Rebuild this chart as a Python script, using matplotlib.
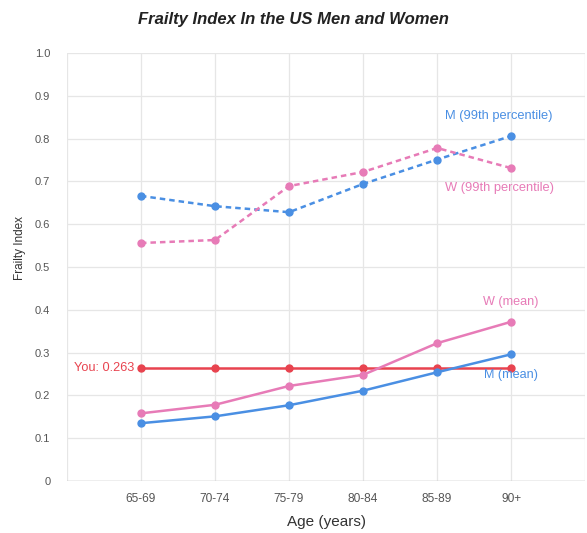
import matplotlib
matplotlib.use("Agg")
import matplotlib.pyplot as plt

plt.rcParams['font.family'] = ['Liberation Sans', 'DejaVu Sans']

categories = ["65-69", "70-74", "75-79", "80-84", "85-89", "90+"]
m_99 = [0.666, 0.642, 0.628, 0.694, 0.751, 0.806]
w_99 = [0.556, 0.563, 0.689, 0.722, 0.778, 0.731]
w_mean = [0.158, 0.178, 0.222, 0.248, 0.322, 0.372]
m_mean = [0.135, 0.151, 0.177, 0.211, 0.254, 0.296]
you_value = 0.263
y_ticks = [0, 0.1, 0.2, 0.3, 0.4, 0.5, 0.6, 0.7, 0.8, 0.9, 1.0]
y_tick_labels = ["0", "0.1", "0.2", "0.3", "0.4", "0.5", "0.6", "0.7", "0.8", "0.9", "1.0"]

BLUE = "#4a8fe3"
PINK = "#e77bb7"
RED = "#e8434f"

fig = plt.figure(figsize=(5.87, 5.33), dpi=100)
ax = fig.add_axes([0.114, 0.0976, 0.883, 0.803])

x = list(range(1, len(categories) + 1))

ax.plot(x, m_99, color=BLUE, lw=1.8, ls=(0, (2.2, 1.6)), marker='o', ms=5, zorder=3)
ax.plot(x, w_99, color=PINK, lw=1.8, ls=(0, (2.2, 1.6)), marker='o', ms=5, zorder=3)
ax.plot(x, [you_value] * len(x), color=RED, lw=1.8, marker='o', ms=5, zorder=2)
ax.plot(x, w_mean, color=PINK, lw=1.8, marker='o', ms=5, zorder=3)
ax.plot(x, m_mean, color=BLUE, lw=1.8, marker='o', ms=5, zorder=4)

ax.set_xlim(0, len(categories) + 1)
ax.set_ylim(0, 1.0)
ax.set_xticks(x)
ax.set_xticklabels(categories)
ax.set_yticks(y_ticks)
ax.set_yticklabels(y_tick_labels)
ax.set_xticks([0, len(categories) + 1], minor=True)

for s in ax.spines.values():
    s.set_visible(False)
ax.axhline(0, color="#bbbbbb", lw=1.0, zorder=1)
ax.grid(True, which='major', color="#e6e6e6", lw=0.9)
ax.grid(True, which='minor', axis='x', color="#e6e6e6", lw=0.9)
ax.set_axisbelow(True)
ax.tick_params(axis='x', which='both', length=0, labelsize=8.6, labelcolor="#555555", pad=9)
ax.tick_params(axis='y', which='both', length=0, labelsize=8, labelcolor="#555555", pad=12)

ax.set_xlabel("Age (years)", fontsize=11, color="#333333", labelpad=7)
ax.set_ylabel("Frailty Index", fontsize=8.5, color="#333333")
ax.yaxis.set_label_coords(-0.078, 0.544)
fig.suptitle("Frailty Index In the US Men and Women", fontsize=12, fontstyle='italic',
             fontweight='bold', color="#222222", y=0.978)

ax.annotate("M (99th percentile)", (x[-1], m_99[-1]), xytext=(-8.6, 14.4), textcoords='offset points',
            ha='center', va='center', color=BLUE, fontsize=9.3)
ax.annotate("W (99th percentile)", (x[-1], w_99[-1]), xytext=(-8.6, -14.4), textcoords='offset points',
            ha='center', va='center', color=PINK, fontsize=9.3)
ax.annotate("W (mean)", (x[-1], w_mean[-1]), xytext=(0, 14), textcoords='offset points',
            ha='center', va='center', color=PINK, fontsize=9.1)
ax.annotate("M (mean)", (x[-1], m_mean[-1]), xytext=(0, -15), textcoords='offset points',
            ha='center', va='center', color=BLUE, fontsize=9.1)
ax.annotate(f"You: {you_value}", (x[0], you_value), xytext=(-5, 0), textcoords='offset points',
            ha='right', va='center', color=RED, fontsize=9.2)

fig.savefig("out.png", dpi=100)
